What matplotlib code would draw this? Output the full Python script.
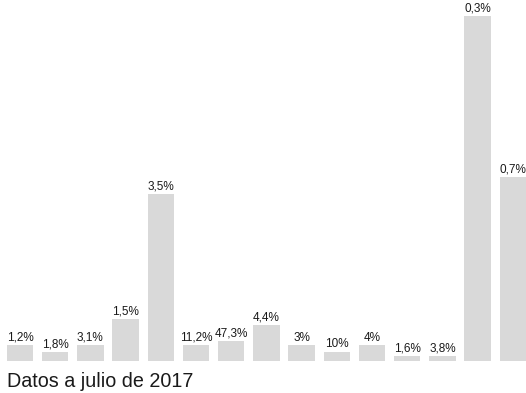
import numpy as np
import matplotlib
matplotlib.use('Agg')
import matplotlib.pyplot as plt

plt.rcParams['font.family'] = ['Liberation Sans', 'DejaVu Sans']

# Altura de cada barra y la etiqueta que se muestra encima
valores = [16, 9.5, 16, 42, 167, 16, 20.5, 36, 16, 9.5, 16, 5, 5, 345, 184]
etiquetas = ['1,2%', '1,8%', '3,1%', '1,5%', '3,5%', '11,2%', '47,3%', '4,4%',
             '3%', '10%', '4%', '1,6%', '3,8%', '0,3%', '0,7%']

fig = plt.figure(figsize=(5.26, 3.93), dpi=100)
ax = fig.add_axes([0, 32 / 393, 1, 361 / 393])

x = np.arange(len(valores))
ax.bar(x, valores, width=0.753, color='#d9d9d9')

for xi, v, lab in zip(x, valores, etiquetas):
    ax.annotate(lab, (xi, v), xytext=(0, 3), textcoords='offset points',
                ha='center', va='baseline', fontsize=8.5, color='#1a1a1a')

ax.set_xlim(-0.567, 14.376)
ax.set_ylim(0, 361)
ax.axis('off')

fig.text(7 / 526, 1 - 387 / 393, 'Datos a julio de 2017', fontsize=14.2,
         color='#1a1a1a', ha='left', va='baseline')

fig.savefig('out.png', dpi=100)
